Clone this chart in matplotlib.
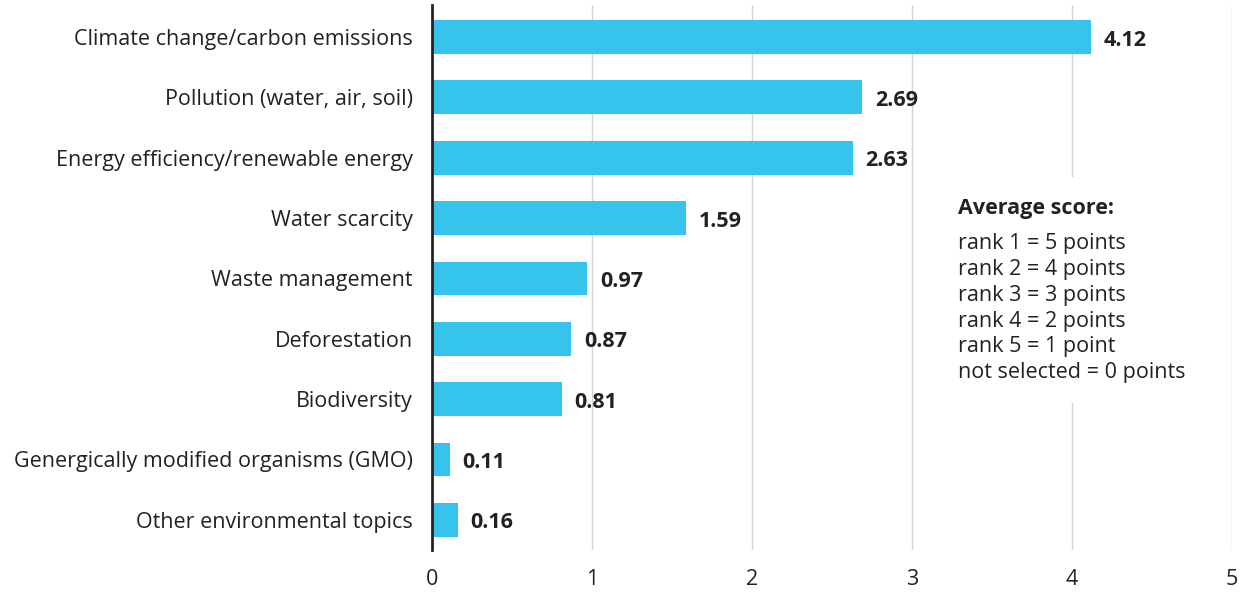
import matplotlib
matplotlib.use('Agg')
import matplotlib.pyplot as plt
from matplotlib.patches import Rectangle

plt.rcParams['font.family'] = ['Open Sans', 'DejaVu Sans']

topics = ['Climate change/carbon emissions', 'Pollution (water, air, soil)',
          'Energy efficiency/renewable energy', 'Water scarcity', 'Waste management',
          'Deforestation', 'Biodiversity', 'Genergically modified organisms (GMO)',
          'Other environmental topics']
scores = [4.12, 2.69, 2.63, 1.59, 0.97, 0.87, 0.81, 0.11, 0.16]
note_title = 'Average score:'
note_lines = ['rank 1 = 5 points', 'rank 2 = 4 points', 'rank 3 = 3 points',
              'rank 4 = 2 points', 'rank 5 = 1 point', 'not selected = 0 points']

text_col = '#222222'
bar_col = '#36C3EC'
fs = 15.5

fig = plt.figure(figsize=(12.42, 5.92), dpi=100)
ax = fig.add_axes([432 / 1242, 1 - 550 / 592, 800 / 1242, 545 / 592])

y_pos = list(range(len(topics)))
ax.barh(y_pos, scores, height=0.56, color=bar_col, zorder=3)
ax.set_ylim(8.5, -0.53)
ax.set_xlim(0, 5)
ax.set_yticks(y_pos)
ax.set_yticklabels(topics, fontsize=fs, color=text_col)
ax.set_xticks(range(6))
ax.set_xticklabels([str(i) for i in range(6)], fontsize=fs, color=text_col)
ax.tick_params(axis='y', length=0, pad=14)
ax.tick_params(axis='x', length=0, pad=14)

ax.grid(axis='x', color='#d4d4d4', linewidth=1, zorder=0)
for s in ['top', 'right', 'bottom']:
    ax.spines[s].set_visible(False)
ax.spines['left'].set_linewidth(2)
ax.spines['left'].set_color('#222222')
ax.spines['left'].set_zorder(5)

for y, v in zip(y_pos, scores):
    ax.text(v + 0.08, y + 0.05, f'{v:.2f}', va='center', ha='left',
            fontsize=fs, fontweight='bold', color=text_col)

# white note box over the grid
ax.add_patch(Rectangle((3.15, 2.32), 1.75, 3.74, facecolor='white',
                       edgecolor='none', zorder=2))
ax.text(3.29, 2.85, note_title, fontsize=fs, fontweight='bold',
        color=text_col, va='center', zorder=4)
ax.text(3.29, 3.25, '\n'.join(note_lines), fontsize=fs, color=text_col,
        va='top', linespacing=1.3, zorder=4)

fig.savefig('out.png', dpi=100)
